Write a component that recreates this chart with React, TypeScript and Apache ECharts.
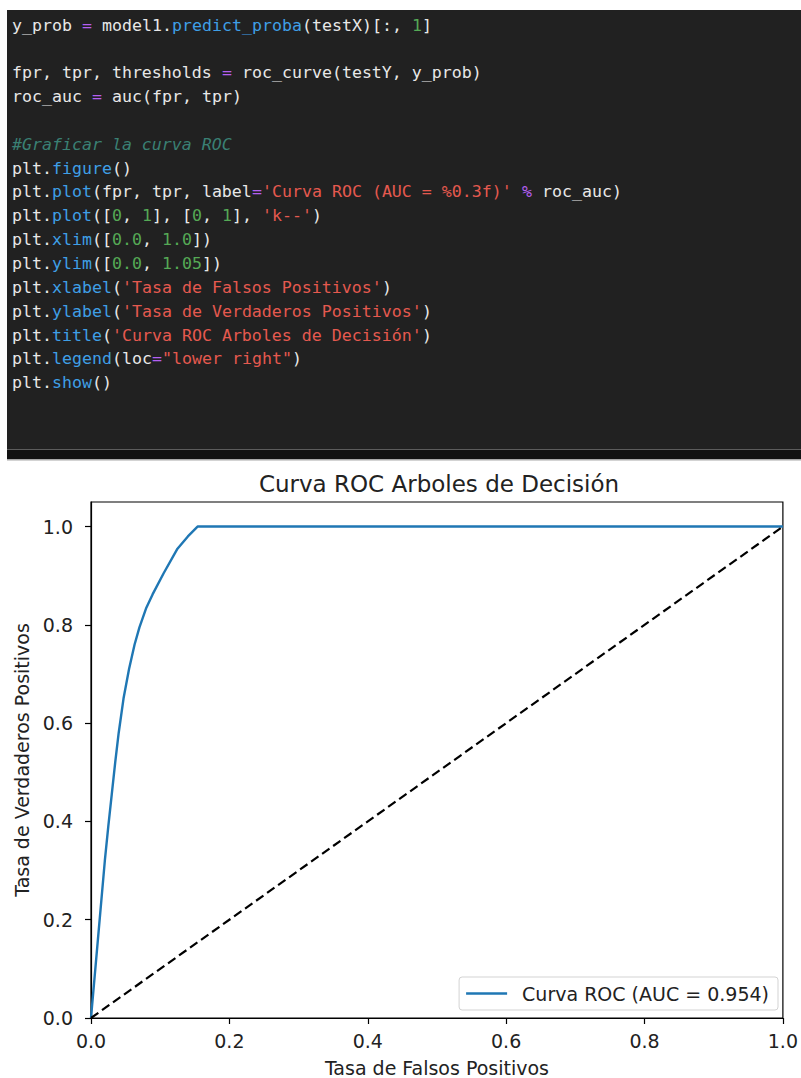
import { useEffect, useRef } from "react";
import * as echarts from "echarts";

// ROC curve points (false positive rate / true positive rate)
const fpr = [0, 0.01, 0.02, 0.025, 0.03, 0.035, 0.04, 0.047, 0.055, 0.063, 0.07, 0.08, 0.089, 0.105, 0.125, 0.14, 0.154, 1.0];
const tpr = [0, 0.16, 0.32, 0.39, 0.455, 0.52, 0.58, 0.65, 0.71, 0.76, 0.795, 0.835, 0.862, 0.905, 0.955, 0.98, 1.0, 1.0];
// Chance diagonal
const chanceX = [0, 1];
const chanceY = [0, 1];
const axisTicks = [0, 0.2, 0.4, 0.6, 0.8, 1.0];
const rocAuc = 0.954;

const titleText = "Curva ROC Arboles de Decisión";
const xLabel = "Tasa de Falsos Positivos";
const yLabel = "Tasa de Verdaderos Positivos";
const legendLabel = `Curva ROC (AUC = ${rocAuc.toFixed(3)})`;

// Notebook cell source, tokenised for syntax colouring
// d = plain, f = method, o = operator, s = string, n = number, c = comment
type Tok = [string, string];
const codeLines: Tok[][] = [
  [["d", "y_prob "], ["o", "="], ["d", " model1."], ["f", "predict_proba"], ["d", "(testX)[:, "], ["n", "1"], ["d", "]"]],
  [],
  [["d", "fpr, tpr, thresholds "], ["o", "="], ["d", " roc_curve(testY, y_prob)"]],
  [["d", "roc_auc "], ["o", "="], ["d", " auc(fpr, tpr)"]],
  [],
  [["c", "#Graficar la curva ROC"]],
  [["d", "plt."], ["f", "figure"], ["d", "()"]],
  [["d", "plt."], ["f", "plot"], ["d", "(fpr, tpr, label"], ["o", "="], ["s", "'Curva ROC (AUC = %0.3f)'"], ["d", " "], ["o", "%"], ["d", " roc_auc)"]],
  [["d", "plt."], ["f", "plot"], ["d", "(["], ["n", "0"], ["d", ", "], ["n", "1"], ["d", "], ["], ["n", "0"], ["d", ", "], ["n", "1"], ["d", "], "], ["s", "'k--'"], ["d", ")"]],
  [["d", "plt."], ["f", "xlim"], ["d", "(["], ["n", "0.0"], ["d", ", "], ["n", "1.0"], ["d", "])"]],
  [["d", "plt."], ["f", "ylim"], ["d", "(["], ["n", "0.0"], ["d", ", "], ["n", "1.05"], ["d", "])"]],
  [["d", "plt."], ["f", "xlabel"], ["d", "("], ["s", "'Tasa de Falsos Positivos'"], ["d", ")"]],
  [["d", "plt."], ["f", "ylabel"], ["d", "("], ["s", "'Tasa de Verdaderos Positivos'"], ["d", ")"]],
  [["d", "plt."], ["f", "title"], ["d", "("], ["s", "'Curva ROC Arboles de Decisión'"], ["d", ")"]],
  [["d", "plt."], ["f", "legend"], ["d", "(loc"], ["o", "="], ["s", "\"lower right\""], ["d", ")"]],
  [["d", "plt."], ["f", "show"], ["d", "()"]],
];

const tokenColors: Record<string, string> = {
  d: "#e8e8e8",
  f: "#3f9fe6",
  o: "#b45ff0",
  s: "#e5594f",
  n: "#55a955",
  c: "#3a8074",
};

const FONT = "DejaVu Sans";
const MONO = "DejaVu Sans Mono";
const CHAR_W = 10;
const CODE_X = 12;
const CODE_Y0 = 25;
const LINE_H = 23.85;

function buildCodeGraphics() {
  const els: any[] = [
    { type: "rect", shape: { x: 7, y: 10, width: 794, height: 439 }, style: { fill: "#212121" }, silent: true },
    { type: "rect", shape: { x: 7, y: 449, width: 794, height: 1 }, style: { fill: "#5c5c5c" }, silent: true },
    { type: "rect", shape: { x: 7, y: 450, width: 794, height: 9 }, style: { fill: "#121212" }, silent: true },
    { type: "rect", shape: { x: 7, y: 459, width: 794, height: 1.5 }, style: { fill: "#a8a8a8" }, silent: true },
  ];
  codeLines.forEach((line, li) => {
    let col = 0;
    const y = CODE_Y0 + li * LINE_H;
    line.forEach(([kind, raw]) => {
      const lead = raw.length - raw.replace(/^ +/, "").length;
      const txt = raw.trim();
      if (txt.length > 0) {
        els.push({
          type: "text",
          x: CODE_X + (col + lead) * CHAR_W,
          y,
          silent: true,
          style: {
            text: txt,
            fill: tokenColors[kind],
            fontFamily: MONO,
            fontSize: 16.6,
            fontStyle: kind === "c" ? "italic" : "normal",
            textAlign: "left",
            textVerticalAlign: "middle",
            align: "left",
            verticalAlign: "middle",
          },
        });
      }
      col += raw.length;
    });
  });
  return els;
}

export default function App() {
  const ref = useRef<HTMLDivElement>(null);

  useEffect(() => {
    if (!ref.current) return;
    const chart = echarts.init(ref.current, undefined, { renderer: "svg" });
    const axisText = { fontFamily: FONT, fontSize: 19, color: "#222" };
    chart.setOption({
      animation: false,
      backgroundColor: "#ffffff",
      title: {
        text: titleText,
        left: 439,
        top: 472,
        textAlign: "center",
        padding: 0,
        textStyle: { fontFamily: FONT, fontSize: 23, fontWeight: "normal", color: "#222" },
      },
      legend: {
        data: [legendLabel],
        right: 23,
        bottom: 68,
        icon: "rect",
        itemWidth: 41,
        itemHeight: 2.4,
        padding: [7, 9, 7, 7],
        backgroundColor: "rgba(255,255,255,0.8)",
        borderColor: "#d3d3d3",
        borderWidth: 1,
        borderRadius: 3,
        textStyle: { ...axisText, padding: [0, 0, 0, 10] },
      },
      grid: {
        left: 91,
        top: 502,
        width: 696,
        height: 517,
        show: true,
        borderColor: "#000",
        borderWidth: 1.2,
        backgroundColor: "transparent",
      },
      xAxis: {
        type: "value",
        min: 0,
        max: 1,
        interval: 0.2,
        name: xLabel,
        nameLocation: "middle",
        nameGap: 40,
        nameTextStyle: axisText,
        axisLine: { show: true, onZero: false, lineStyle: { color: "#000", width: 1.2 } },
        axisTick: { show: true, length: 6, lineStyle: { color: "#000", width: 1.2 } },
        axisLabel: { ...axisText, margin: 13, formatter: (v: number) => v.toFixed(1) },
        splitLine: { show: false },
      },
      yAxis: {
        type: "value",
        min: 0,
        max: 1.05,
        interval: 0.2,
        name: yLabel,
        nameLocation: "middle",
        nameGap: 53,
        nameTextStyle: axisText,
        axisLine: { show: true, onZero: false, lineStyle: { color: "#000", width: 1.2 } },
        axisTick: { show: true, length: 6, customValues: axisTicks, lineStyle: { color: "#000", width: 1.2 } },
        axisLabel: { ...axisText, margin: 18, customValues: axisTicks, formatter: (v: number) => v.toFixed(1) },
        splitLine: { show: false },
      },
      series: [
        {
          type: "line",
          name: legendLabel,
          data: fpr.map((x, i) => [x, tpr[i]]),
          symbol: "none",
          showSymbol: false,
          lineStyle: { color: "#1f77b4", width: 2.4 },
          itemStyle: { color: "#1f77b4" },
          z: 2,
        },
        {
          type: "line",
          name: "diagonal",
          data: chanceX.map((x, i) => [x, chanceY[i]]),
          symbol: "none",
          showSymbol: false,
          lineStyle: { color: "#000", width: 2.2, type: [9, 4.5] },
          itemStyle: { color: "#000" },
          z: 3,
        },
      ],
      graphic: buildCodeGraphics(),
    });
    return () => chart.dispose();
  }, []);

  return (
    <div
      ref={ref}
      style={{ position: "absolute", left: 0, top: 0, width: 801, height: 1078, background: "#fff" }}
    />
  );
}
